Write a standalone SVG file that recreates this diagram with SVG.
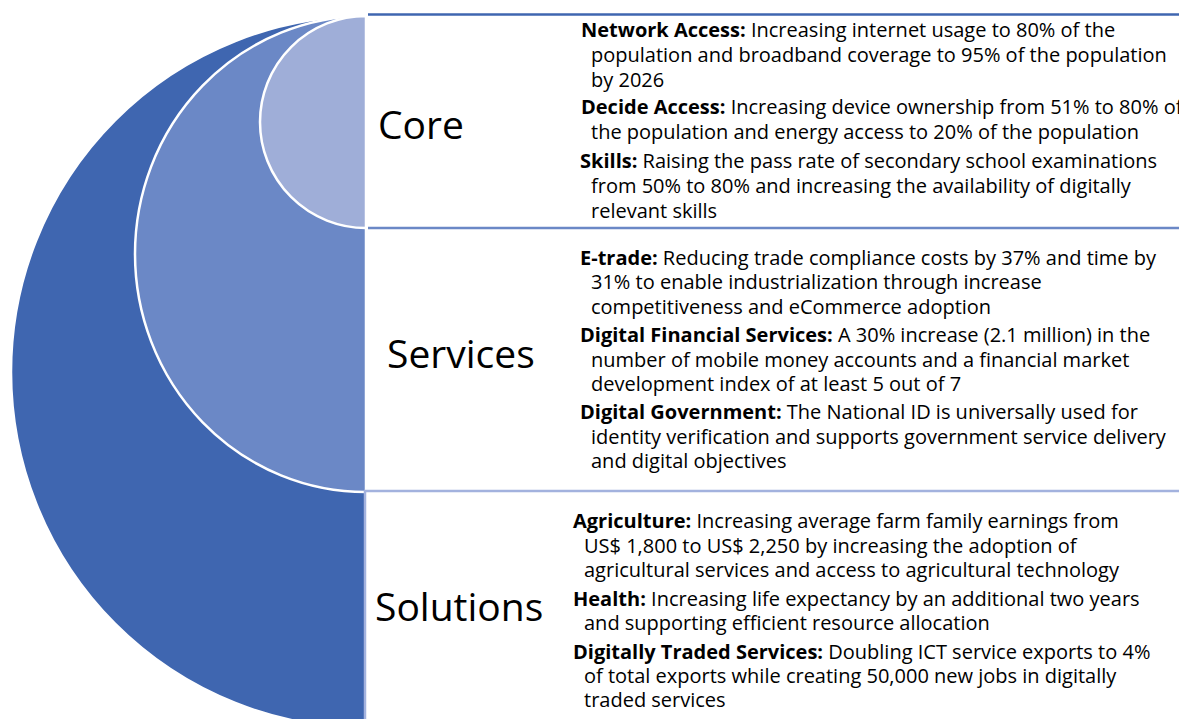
<svg xmlns="http://www.w3.org/2000/svg" width="1179" height="719" viewBox="0 0 1179 719">
<style>
.shape{stroke:#fff;stroke-width:2.5}
.dark{fill:#3F66B0}
.mid{fill:#6B88C6}
.light{fill:#9FAED8}
.title{font-family:"Open Sans","Liberation Sans",sans-serif;font-size:39px;fill:#000}
.body{font-family:"Open Sans","Liberation Sans",sans-serif;font-size:20px;fill:#000}
.b{font-weight:bold}
.ln{stroke-width:2.5;fill:none}
</style>
<rect width="1179" height="719" fill="#fff"/>
<g id="solutions">
<path class="shape dark" d="M366,16 A355,356 0 0 0 366,728 Z"/>
<text class="title" x="375" y="621">Solutions</text>
<text class="body">
<tspan x="573" y="528" class="b">Agriculture:</tspan><tspan> Increasing average farm family earnings from</tspan>
<tspan x="584" y="553">US$ 1,800 to US$ 2,250 by increasing the adoption of</tspan>
<tspan x="584" y="577">agricultural services and access to agricultural technology</tspan>
<tspan x="573" y="606" class="b">Health:</tspan><tspan> Increasing life expectancy by an additional two years</tspan>
<tspan x="584" y="630">and supporting efficient resource allocation</tspan>
<tspan x="573" y="659" class="b">Digitally Traded Services:</tspan><tspan> Doubling ICT service exports to 4%</tspan>
<tspan x="584" y="683">of total exports while creating 50,000 new jobs in digitally</tspan>
<tspan x="584" y="707">traded services</tspan>
</text>
</g>
<g id="services">
<path class="shape mid" d="M366,16 A231,238 0 0 0 366,492 Z"/>
<text class="title" x="387" y="368">Services</text>
<text class="body">
<tspan x="580" y="265" class="b">E-trade:</tspan><tspan> Reducing trade compliance costs by 37% and time by</tspan>
<tspan x="591" y="289">31% to enable industrialization through increase</tspan>
<tspan x="591" y="314">competitiveness and eCommerce adoption</tspan>
<tspan x="580" y="342" class="b">Digital Financial Services:</tspan><tspan> A 30% increase (2.1 million) in the</tspan>
<tspan x="591" y="367">number of mobile money accounts and a financial market</tspan>
<tspan x="591" y="391">development index of at least 5 out of 7</tspan>
<tspan x="580" y="419" class="b">Digital Government:</tspan><tspan> The National ID is universally used for</tspan>
<tspan x="591" y="444">identity verification and supports government service delivery</tspan>
<tspan x="591" y="468">and digital objectives</tspan>
</text>
</g>
<g id="core">
<path class="shape light" d="M366,16 A106,106 0 0 0 366,228 Z"/>
<text class="title" x="378" y="139">Core</text>
<text class="body">
<tspan x="581" y="37" class="b">Network Access:</tspan><tspan> Increasing internet usage to 80% of the</tspan>
<tspan x="591" y="62">population and broadband coverage to 95% of the population</tspan>
<tspan x="591" y="87">by 2026</tspan>
<tspan x="581" y="114" class="b">Decide Access:</tspan><tspan> Increasing device ownership from 51% to 80% of</tspan>
<tspan x="591" y="139">the population and energy access to 20% of the population</tspan>
<tspan x="580" y="168" class="b">Skills:</tspan><tspan> Raising the pass rate of secondary school examinations</tspan>
<tspan x="591" y="193">from 50% to 80% and increasing the availability of digitally</tspan>
<tspan x="591" y="218">relevant skills</tspan>
</text>
</g>
<g id="connectors">
<line class="ln" x1="368" y1="14.5" x2="1179" y2="14.5" stroke="#3F66B0"/>
<line class="ln" x1="368" y1="228" x2="1179" y2="228" stroke="#6B88C6"/>
<line class="ln" x1="364" y1="491" x2="1179" y2="491" stroke="#A3B2DE"/>
<line class="ln" x1="365" y1="491" x2="365" y2="719" stroke="#A3B2DE"/>
</g>
</svg>
